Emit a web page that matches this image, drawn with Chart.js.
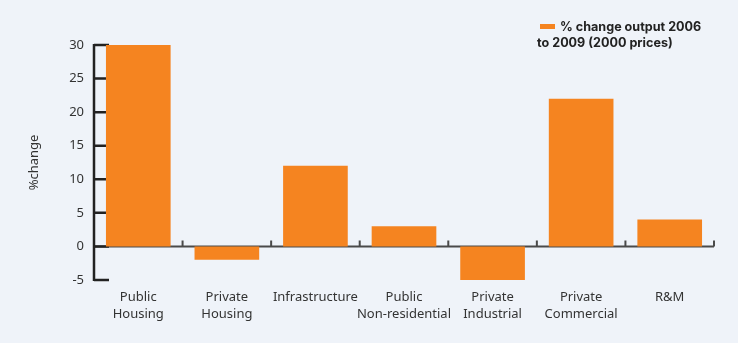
<!DOCTYPE html>
<html>
<head>
<meta charset="utf-8">
<script src="https://cdn.jsdelivr.net/npm/chart.js@4.4.1/dist/chart.umd.min.js"></script>
<style>
  html, body { margin: 0; padding: 0; background: #eff3f9; }
  #wrap { position: relative; width: 738px; height: 343px; }
  #legend {
    position: absolute; left: 537px; top: 19px; width: 172px;
    font-family: Inter, "Noto Sans", sans-serif; font-weight: bold;
    font-size: 12.6px; line-height: 16px; color: #222;
  }
  #legend .box {
    display: inline-block; width: 15px; height: 5px; background: #f58420;
    margin: 0 5px 2px 3px; vertical-align: middle;
  }
</style>
</head>
<body>
<div id="wrap">
  <canvas id="chart" width="738" height="343"></canvas>
  <div id="legend"><span class="box"></span>% change output 2006 to 2009 (2000 prices)</div>
</div>
<script>
const categories = [
    ['Public', 'Housing'],
    ['Private', 'Housing'],
    'Infrastructure',
    ['Public', 'Non-residential'],
    ['Private', 'Industrial'],
    ['Private', 'Commercial'],
    'R&M'
];
const changeValues = [30, -2, 12, 3, -5, 22, 4];
const yTicks = [-5, 0, 5, 10, 15, 20, 25, 30];

// axis lines, inner ticks and the zero line with category ticks
const axisPlugin = {
    id: 'axisPlugin',
    beforeDatasetsDraw(chart) {
        const ctx = chart.ctx;
        const x = chart.scales.x, y = chart.scales.y;
        const left = chart.chartArea.left, right = chart.chartArea.right;
        const zero = y.getPixelForValue(0);
        const step = x.getPixelForValue(1) - x.getPixelForValue(0);
        ctx.save();
        ctx.strokeStyle = '#4a4a4a';
        ctx.lineWidth = 2;
        ctx.beginPath();
        ctx.moveTo(left, zero);
        ctx.lineTo(right, zero);
        for (let i = 0; i < categories.length; i++) {
            const bx = x.getPixelForValue(i) + step / 2;
            ctx.moveTo(bx, zero);
            ctx.lineTo(bx, zero - 6);
        }
        ctx.stroke();

        ctx.strokeStyle = '#222';
        ctx.lineWidth = 2.5;
        ctx.beginPath();
        ctx.moveTo(left, y.getPixelForValue(30) - 1);
        ctx.lineTo(left, y.getPixelForValue(-5) + 1);
        yTicks.forEach(v => {
            const py = y.getPixelForValue(v);
            ctx.moveTo(left, py);
            ctx.lineTo(left + 15, py);
        });
        ctx.stroke();
        ctx.restore();
    }
};

const ctx = document.getElementById('chart').getContext('2d');
new Chart(ctx, {
    type: 'bar',
    data: {
        labels: categories,
        datasets: [{
            label: '% change output 2006 to 2009 (2000 prices)',
            data: changeValues,
            backgroundColor: '#f58420',
            categoryPercentage: 1,
            barPercentage: 0.73
        }]
    },
    options: {
        responsive: false,
        animation: false,
        layout: { padding: { left: 26, top: 45, right: 24, bottom: 0 } },
        plugins: {
            legend: { display: false },
            tooltip: { enabled: false }
        },
        scales: {
            x: {
                grid: { display: false, drawTicks: false },
                border: { display: false },
                ticks: {
                    color: '#333',
                    padding: 9,
                    maxRotation: 0,
                    autoSkip: false,
                    font: { family: '"Noto Sans", sans-serif', size: 13, lineHeight: 1.3 }
                },
                afterFit(scale) { scale.height = 63; }
            },
            y: {
                min: -5,
                max: 30,
                grid: { display: false, drawTicks: false },
                border: { display: false },
                ticks: {
                    stepSize: 5,
                    color: '#333',
                    padding: 10,
                    font: { family: '"Noto Sans", sans-serif', size: 13 }
                },
                title: {
                    display: true,
                    text: '%change',
                    color: '#333',
                    padding: 0,
                    font: { family: '"Noto Sans", sans-serif', size: 13 }
                },
                afterFit(scale) { scale.width = 68; }
            }
        }
    },
    plugins: [axisPlugin]
});
</script>
</body>
</html>
